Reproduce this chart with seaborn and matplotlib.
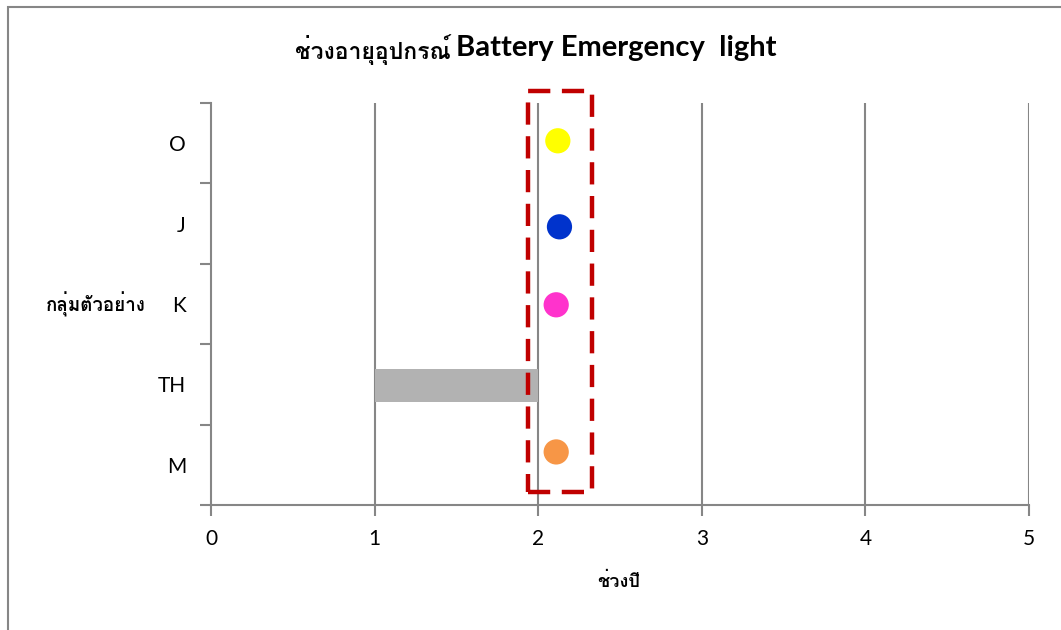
import matplotlib
matplotlib.use("Agg")
import matplotlib.pyplot as plt
from matplotlib import font_manager as fm
from matplotlib.ft2font import FT2Font
from matplotlib.patches import Rectangle
import seaborn as sns
import pandas as pd

# ---------------- data ----------------
categories = ["M", "TH", "K", "J", "O"]          # bottom -> top
point_groups = ["O", "J", "K", "M"]
point_years = [2.12, 2.13, 2.11, 2.11]
point_ypos = [4.53, 3.46, 2.49, 0.66]
point_colors = ["#FFFF00", "#0033CC", "#FF33CC", "#F79646"]
range_group = ["TH"]
range_start = [1.0]
range_end = [2.0]
range_ypos = [1.49]
highlight_x = [1.94, 2.33]
x_ticks = [0, 1, 2, 3, 4, 5]
title_th = "ช่วงอายุอุปกรณ์"
title_en = "Battery Emergency  light"
xlabel = "ช่วงปี"
ylabel = "กลุ่มตัวอย่าง"

# ------------- fonts -------------------
sns.set_theme(style="white")

def find_thai_font():
    seen = set()
    for f in fm.fontManager.ttflist:
        if f.fname in seen:
            continue
        seen.add(f.fname)
        try:
            cm = FT2Font(f.fname).get_charmap()
        except Exception:
            continue
        if ord("ช") in cm and ord("่") in cm:
            return f.name
    return None

thai = find_thai_font()
thai_fam = ([thai] if thai else []) + ["DejaVu Sans"]
latin_fam = ["Lato", "DejaVu Sans"]
plt.rcParams["font.family"] = latin_fam
plt.rcParams["text.color"] = "black"
plt.rcParams["xtick.color"] = "black"
plt.rcParams["ytick.color"] = "black"

W, H = 1061, 630
fig = plt.figure(figsize=(W / 100, H / 100), dpi=100)
ax = fig.add_axes([211 / W, 1 - 505 / H, (1029 - 211) / W, (505 - 103) / H])

grid_c = "#868686"

# range bar
ax.barh(range_ypos, [e - s for s, e in zip(range_start, range_end)], left=range_start,
        height=0.41, color="#B2B2B2", edgecolor="none", linewidth=0, zorder=2)

df = pd.DataFrame({"group": point_groups, "year": point_years, "ypos": point_ypos})
sns.scatterplot(data=df, x="year", y="ypos", hue="group",
                palette=dict(zip(point_groups, point_colors)),
                s=330, edgecolor="none", legend=False, ax=ax, zorder=4)

ax.set_xlim(0, 5)
ax.set_ylim(0, 5)
ax.set_xticks(x_ticks)
ax.set_xticklabels([str(t) for t in x_ticks], fontsize=15, color="black")
for xv in x_ticks[1:]:
    ax.axvline(xv, color=grid_c, lw=1.5, zorder=1)

ax.set_yticks(range(6))
ax.set_yticklabels([])
ax.set_yticks([i + 0.5 for i in range(5)], minor=True)
ax.set_yticklabels(categories, minor=True, fontsize=15, color="black")
ax.tick_params(axis="y", which="minor", length=0, pad=18)
ax.tick_params(axis="y", which="major", length=8, width=1.5, color=grid_c, direction="out", left=True)
ax.tick_params(axis="x", which="major", length=8, width=1.5, color=grid_c, direction="out", bottom=True, pad=9)

for s in ["top", "right"]:
    ax.spines[s].set_visible(False)
for s in ["left", "bottom"]:
    ax.spines[s].set_color(grid_c)
    ax.spines[s].set_linewidth(1.5)

ax.set_xlabel("")
ax.set_ylabel("")

# highlight dashed box
y0 = (505 - 492) / 80.4
y1 = 5 + (103 - 91) / 80.4
rect = Rectangle((highlight_x[0], y0), highlight_x[1] - highlight_x[0], y1 - y0,
                 fill=False, edgecolor="#C00000", lw=3.2, linestyle=(0, (5, 2.6)),
                 clip_on=False, zorder=5, joinstyle="round")
ax.add_patch(rect)

# labels
fig.text(619 / W, 1 - 582 / H, xlabel, ha="center", va="center", fontsize=13,
         fontweight="bold", family=thai_fam, color="black")
fig.text(96 / W, 1 - 304 / H, ylabel, ha="center", va="center", fontsize=13.5,
         fontweight="bold", family=thai_fam, color="black")

# title
fig.text(451 / W, 1 - 50 / H, title_th, ha="right", va="center", fontsize=16.5,
         fontweight="bold", family=thai_fam, color="black")
fig.text(456 / W, 1 - 48 / H, title_en, ha="left", va="center", fontsize=21,
         fontweight="bold", family=latin_fam, color="black")

# figure border
fig.add_artist(Rectangle((7.5 / W, -0.05), 1.2, 1 - 6.5 / H + 0.05, transform=fig.transFigure,
                         fill=False, edgecolor=grid_c, lw=1.5, clip_on=False))

fig.savefig("out.png", dpi=100)
